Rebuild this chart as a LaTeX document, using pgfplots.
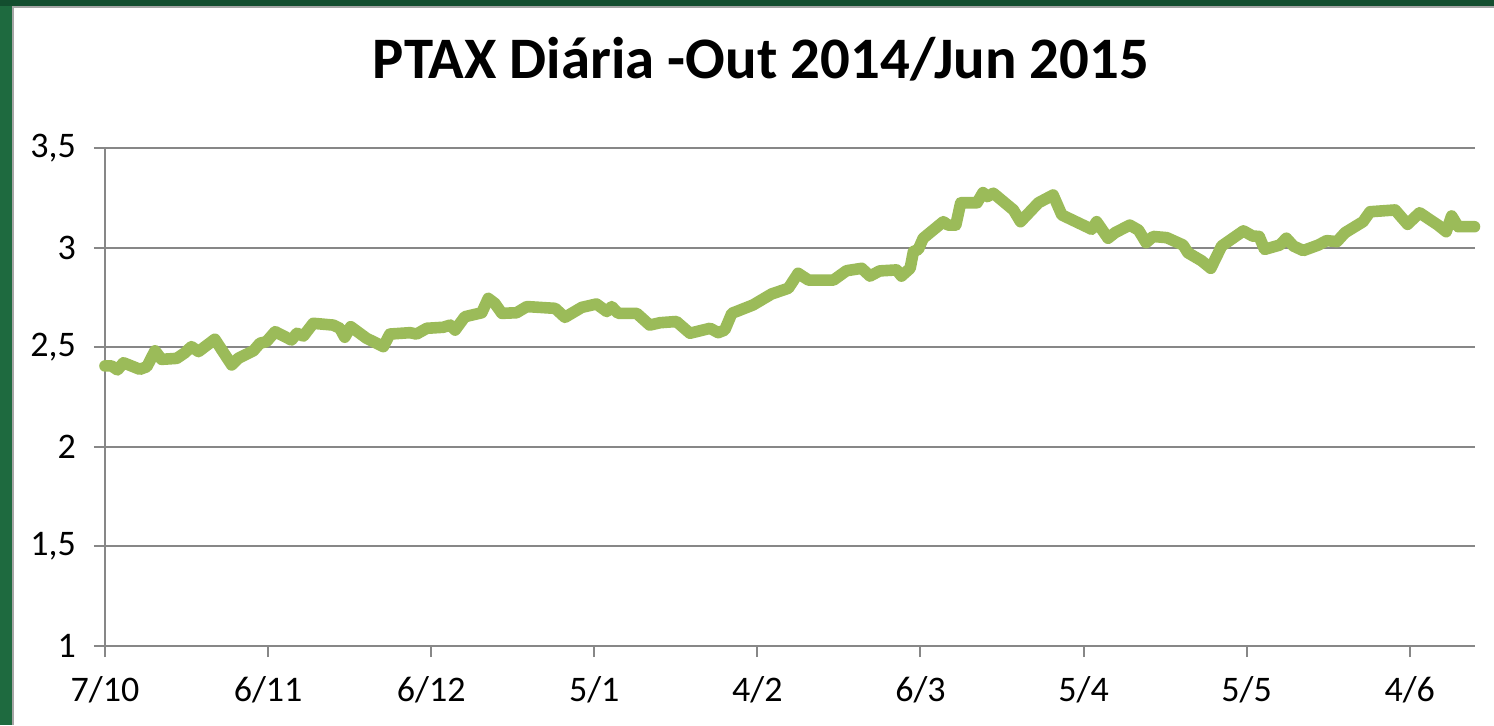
\documentclass[border=0pt]{standalone}
\usepackage{fontspec}
\setmainfont{Carlito}
\usepackage{pgfplots}
\pgfplotsset{compat=1.18}
\definecolor{ptaxline}{HTML}{9BBB59}
\definecolor{gridgray}{HTML}{878787}
\definecolor{framegreen}{HTML}{1E6A3F}
\definecolor{framedark}{HTML}{134E2F}
\definecolor{edgegray}{HTML}{A6A6A6}

\begin{document}
\begin{tikzpicture}
% slide frame: dark green on left and top, thin gray edge
\fill[framegreen] (-52.5pt,-39.5pt) rectangle (694.5pt,323pt);
\fill[framedark] (-52.5pt,320pt) rectangle (694.5pt,323pt);
\fill[edgegray] (-46.5pt,-39.5pt) rectangle (694.5pt,320pt);
\fill[white] (-45.5pt,-39.5pt) rectangle (694.5pt,319pt);

\begin{axis}[
    at={(0pt,0pt)}, anchor=south west,
    scale only axis,
    width=685pt, height=249pt,
    xmin=0, xmax=252,
    ymin=1, ymax=3.5,
    axis x line*=bottom, axis y line*=left,
    axis line style={gridgray, line width=1pt},
    xtick={0,30,60,90,120,150,180,210,240},
    xticklabels={7/10,6/11,6/12,5/1,4/2,6/3,5/4,5/5,4/6},
    ytick={1,1.5,2,2.5,3,3.5},
    yticklabels={1,{1,5},2,{2,5},3,{3,5}},
    tick align=outside,
    major tick length=5.5pt,
    tick style={gridgray, line width=1pt},
    ymajorgrids,
    grid style={gridgray, line width=1pt},
    ticklabel style={font=\fontsize{18}{20}\selectfont},
    yticklabel style={xshift=-5.5pt},
    xticklabel style={yshift=-6pt},
    /pgf/number format/assume math mode=true,
    clip=false,
    title={PTAX Diária -Out 2014/Jun 2015},
    title style={font=\bfseries\fontsize{29.4}{32}\selectfont,
        at={(axis description cs:0.4788,1)}, anchor=base, yshift=29pt},
]
\addplot[ptaxline, line width=5.8pt, line cap=round, line join=round] coordinates {
(0,2.406) (1.2,2.406) (2.3,2.386) (3.4,2.422) (6.4,2.389) (7.7,2.402)
(9.2,2.482) (10.4,2.439) (13.2,2.444) (14.7,2.472) (15.9,2.503) (17.2,2.478)
(20.2,2.540) (23.3,2.411) (24.5,2.444) (27.3,2.482) (28.5,2.520) (29.7,2.528)
(31.3,2.578) (34.3,2.536) (35.3,2.570) (36.5,2.556) (38.3,2.620) (42.0,2.611)
(43.2,2.595) (44.1,2.550) (45.2,2.603) (48.1,2.545) (51.2,2.503) (52.4,2.566)
(56.1,2.573) (57.3,2.566) (59.2,2.595) (62.2,2.600) (63.5,2.611) (64.4,2.586)
(66.2,2.653) (69.3,2.673) (70.5,2.745) (71.7,2.720) (73.0,2.670) (75.7,2.673)
(77.6,2.704) (82.8,2.695) (84.6,2.650) (87.7,2.700) (90.4,2.717) (92.3,2.679)
(93.2,2.704) (94.4,2.670) (97.8,2.670) (100.2,2.611) (102.1,2.623) (105.1,2.629)
(107.6,2.570) (111.3,2.595) (112.8,2.573) (114.0,2.586) (115.3,2.670) (119.2,2.712)
(122.6,2.767) (125.7,2.796) (127.5,2.871) (129.4,2.837) (134.0,2.837) (136.4,2.884)
(139.2,2.896) (140.7,2.857) (142.5,2.883) (145.6,2.888) (146.5,2.857) (148.1,2.896)
(148.7,2.980) (149.6,2.991) (150.5,3.047) (154.2,3.130) (155.1,3.113) (156.5,3.113)
(157.4,3.225) (160.4,3.225) (161.5,3.276) (162.3,3.256) (163.4,3.273) (167.1,3.189)
(168.4,3.130) (171.7,3.225) (174.4,3.264) (176.0,3.164) (181.5,3.092) (182.4,3.130)
(184.5,3.047) (185.8,3.075) (188.5,3.113) (190.1,3.088) (191.5,3.025) (192.8,3.056)
(195.3,3.050) (198.3,3.013) (199.2,2.974) (201.7,2.934) (203.4,2.896) (205.4,3.008)
(209.4,3.084) (211.1,3.058) (212.3,3.056) (213.3,2.991) (216.1,3.013) (217.3,3.047)
(218.6,3.008) (220.4,2.985) (223.2,3.013) (224.7,3.035) (226.6,3.030) (228.1,3.075)
(231.4,3.130) (232.7,3.180) (237.3,3.189) (239.6,3.117) (241.8,3.175) (245.2,3.113)
(246.7,3.080) (247.7,3.159) (248.9,3.105) (251.9,3.105)
};
\end{axis}
\pgfresetboundingbox
\path[use as bounding box] (-52.5pt,-39.5pt) rectangle (694.5pt,323pt);
\end{tikzpicture}
\end{document}
